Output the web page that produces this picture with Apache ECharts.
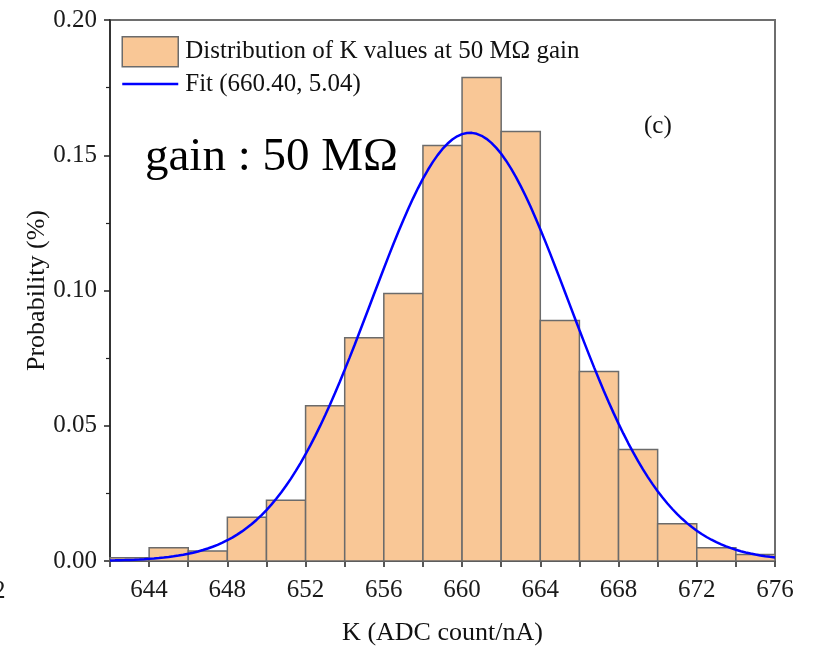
<!DOCTYPE html>
<html>
<head>
<meta charset="utf-8">
<title>Distribution of K values at 50 MΩ gain</title>
<script src="https://cdn.jsdelivr.net/npm/echarts@6/dist/echarts.min.js"></script>
<style>
  html, body { margin: 0; padding: 0; background: #fff; }
  #chart { width: 818px; height: 647px; }
</style>
</head>
<body>
<div id="chart"></div>
<script>
// Histogram bins (left edges, width 2) and their probabilities
var binStarts = [642, 644, 646, 648, 650, 652, 654, 656, 658, 660, 662, 664, 666, 668, 670, 672, 674];
var binWidth = 2;
var probabilities = [0.0012, 0.0049, 0.0037, 0.0162, 0.0225, 0.0574, 0.0825, 0.0989, 0.1536, 0.1787, 0.1588, 0.0889, 0.0701, 0.0412, 0.0138, 0.0049, 0.0024];

// Gaussian fit parameters (mean, sigma), scaled to the bin width
var fitMean = 660.40;
var fitSigma = 5.04;

var xTickLabels = [644, 648, 652, 656, 660, 664, 668, 672, 676];
var yTickLabels = [0.00, 0.05, 0.10, 0.15, 0.20];

var serif = '"Liberation Serif", "DejaVu Serif", serif';

var histData = binStarts.map(function (s, i) { return [s, s + binWidth, probabilities[i]]; });

var fitData = [];
for (var x = 642; x <= 676.0001; x += 0.25) {
  var z = (x - fitMean) / fitSigma;
  fitData.push([x, binWidth / (fitSigma * Math.sqrt(2 * Math.PI)) * Math.exp(-0.5 * z * z)]);
}

var chart = echarts.init(document.getElementById('chart'), null, { renderer: 'canvas' });

chart.setOption({
  animation: false,
  backgroundColor: '#fff',
  grid: {
    left: 110, right: 43, top: 20, bottom: 86,
    outerBoundsMode: 'none', containLabel: false,
    show: true, borderColor: '#6e6e6e', borderWidth: 2, backgroundColor: 'transparent'
  },
  legend: {
    orient: 'vertical',
    left: 116, top: 31,
    itemWidth: 56, itemHeight: 30, itemGap: 4,
    textStyle: { fontFamily: serif, fontSize: 25, color: '#111', padding: [0, 0, 0, 2] },
    data: [
      { name: 'Distribution of K values at 50 MΩ gain', icon: 'rect',
        itemStyle: { color: '#F9C796', borderColor: '#6b6b6b', borderWidth: 1.5 } },
      { name: 'Fit (660.40, 5.04)', itemStyle: { opacity: 0 },
        lineStyle: { color: '#0000FF', width: 2.5 } }
    ]
  },
  xAxis: {
    type: 'value', min: 642, max: 676, interval: 2,
    name: 'K (ADC count/nA)', nameLocation: 'middle', nameGap: 59, nameMoveOverlap: false,
    nameTextStyle: { fontFamily: serif, fontSize: 26, color: '#111' },
    axisLine: { show: true, onZero: false, lineStyle: { color: '#222', width: 1.5 } },
    axisTick: { show: true, inside: false, length: 6, lineStyle: { color: '#222', width: 1.5 } },
    axisLabel: {
      fontFamily: serif, fontSize: 25, color: '#1a1a1a', margin: 17,
      formatter: function (v) { return xTickLabels.indexOf(v) >= 0 ? String(v) : ''; }
    },
    splitLine: { show: false }
  },
  yAxis: {
    type: 'value', min: 0, max: 0.2, interval: 0.05,
    name: 'Probability (%)', nameLocation: 'middle', nameGap: 60, nameMoveOverlap: false,
    nameTextStyle: { fontFamily: serif, fontSize: 26, color: '#111' },
    axisLine: { show: true, lineStyle: { color: '#222', width: 1.5 } },
    axisTick: { show: true, inside: false, length: 6, lineStyle: { color: '#222', width: 1.5 } },
    minorTick: { show: true, splitNumber: 2, length: 4, lineStyle: { color: '#222', width: 1.2 } },
    axisLabel: {
      fontFamily: serif, fontSize: 25, color: '#1a1a1a', margin: 13,
      formatter: function (v) {
        var lbl = v.toFixed(2);
        return yTickLabels.map(function (t) { return t.toFixed(2); }).indexOf(lbl) >= 0 ? lbl : '';
      }
    },
    splitLine: { show: false }
  },
  series: [
    {
      name: 'Distribution of K values at 50 MΩ gain',
      type: 'custom',
      data: histData,
      encode: { x: [0, 1], y: 2 },
      renderItem: function (params, api) {
        var p0 = api.coord([api.value(0), api.value(2)]);
        var p1 = api.coord([api.value(1), 0]);
        return {
          type: 'rect',
          shape: { x: p0[0], y: p0[1], width: p1[0] - p0[0], height: p1[1] - p0[1] },
          style: { fill: '#F9C796', stroke: '#6b6b6b', lineWidth: 1.5 }
        };
      },
      z: 2
    },
    {
      name: 'Fit (660.40, 5.04)',
      type: 'line',
      data: fitData,
      showSymbol: false,
      symbol: 'none',
      smooth: false,
      lineStyle: { color: '#0000FF', width: 2.5 },
      itemStyle: { color: '#0000FF' },
      z: 3
    }
  ],
  graphic: [
    {
      type: 'text', left: 145, top: 134,
      style: { text: 'gain : 50 MΩ', fontFamily: serif, fontSize: 47, fill: '#000' }
    },
    {
      type: 'text', left: 644, top: 114,
      style: { text: '(c)', fontFamily: serif, fontSize: 25, fill: '#111' }
    },
    {
      type: 'text', left: -7, top: 579,
      style: { text: '2', fontFamily: serif, fontSize: 25, fill: '#1a1a1a' }
    }
  ]
});
</script>
</body>
</html>
